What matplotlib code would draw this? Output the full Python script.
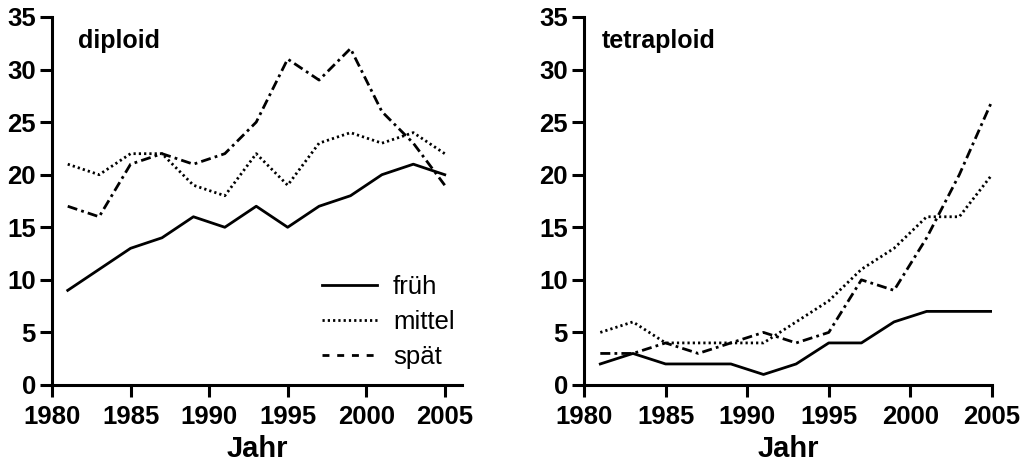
import numpy as np
import matplotlib
matplotlib.use('Agg')
import matplotlib.pyplot as plt
from matplotlib.lines import Line2D

# Jahre (jedes zweite Jahr)
jahre = np.arange(1981, 2006, 2)

# diploid
dip_frueh = [9, 11, 13, 14, 16, 15, 17, 15, 17, 18, 20, 21, 20]
dip_mittel = [21, 20, 22, 22, 19, 18, 22, 19, 23, 24, 23, 24, 22]
dip_spaet = [17, 16, 21, 22, 21, 22, 25, 31, 29, 32, 26, 23, 19]

# tetraploid
tet_frueh = [2, 3, 2, 2, 2, 1, 2, 4, 4, 6, 7, 7, 7]
tet_mittel = [5, 6, 4, 4, 4, 4, 6, 8, 11, 13, 16, 16, 20]
tet_spaet = [3, 3, 4, 3, 4, 5, 4, 5, 10, 9, 14, 20, 27]

labels = ['früh', 'mittel', 'spät']
xticks = [1980, 1985, 1990, 1995, 2000, 2005]
yticks = [0, 5, 10, 15, 20, 25, 30, 35]

plt.rcParams['font.family'] = ['Liberation Sans', 'DejaVu Sans']

LW = 2.0
styles = {
    'früh': dict(linestyle='-'),
    'mittel': dict(linestyle=(0, (0.8, 1.1))),
    'spät': dict(linestyle=(0, (3.6, 1.5, 1.0, 1.5))),
}

fig = plt.figure(figsize=(10.24, 4.63), dpi=100)
ax1 = fig.add_axes([0.0508, 0.1685, 0.4004, 0.7948])
ax2 = fig.add_axes([0.5703, 0.1685, 0.3984, 0.7948])


def draw_panel(ax, frueh, mittel, spaet, title, tx, xmax):
    for name, y in zip(labels, [frueh, mittel, spaet]):
        ax.plot(jahre, y, color='black', linewidth=LW, **styles[name])
    ax.set_xlim(1980, xmax)
    ax.set_ylim(0, 35)
    ax.set_xticks(xticks)
    ax.set_yticks(yticks)
    for s in ['top', 'right']:
        ax.spines[s].set_visible(False)
    for s in ['left', 'bottom']:
        ax.spines[s].set_linewidth(2.2)
    ax.tick_params(direction='out', length=8.5, width=2.2, labelsize=18.5, pad=3)
    ax.tick_params(axis='x', pad=6)
    for lab in ax.get_xticklabels() + ax.get_yticklabels():
        lab.set_fontweight('bold')
    ax.set_xlabel('Jahr', fontsize=21, fontweight='bold', labelpad=4)
    ax.text(tx, 0.935, title, transform=ax.transAxes, fontsize=18,
            fontweight='bold', va='center', ha='left')


draw_panel(ax1, dip_frueh, dip_mittel, dip_spaet, 'diploid', 0.063, 2006.1)
draw_panel(ax2, tet_frueh, tet_mittel, tet_spaet, 'tetraploid', 0.044, 2005)

# Legende nur im linken Panel, mit gestrichelter Darstellung fuer "spaet"
handles = [
    Line2D([], [], color='black', linewidth=LW, linestyle='-'),
    Line2D([], [], color='black', linewidth=LW, linestyle=(0, (0.8, 1.1))),
    Line2D([], [], color='black', linewidth=LW, linestyle=(0, (2.5, 2.8))),
]
ax1.legend(handles, labels, loc='upper left', bbox_to_anchor=(0.6585, 0.30),
           frameon=False, fontsize=18.5, handlelength=2.14, handletextpad=0.62,
           labelspacing=0.43, borderpad=0, borderaxespad=0)

fig.savefig('out.png', dpi=100)
